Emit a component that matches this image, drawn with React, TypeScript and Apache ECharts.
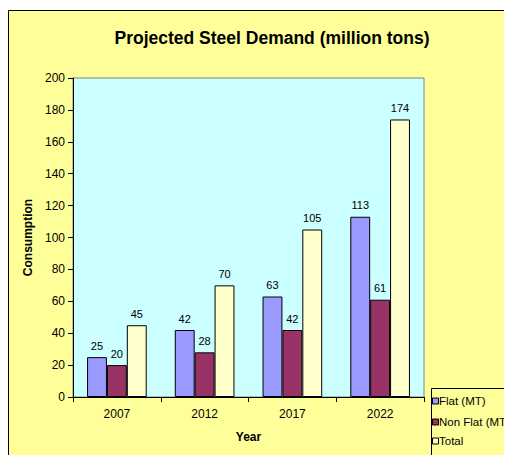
import React, { useEffect, useRef } from "react";
import * as echarts from "echarts";

const categories = ["2007", "2012", "2017", "2022"];
const flatValues = [25, 42, 63, 113];
const nonFlatValues = [20, 28, 42, 61];
const totalValues = [45, 70, 105, 174];
const seriesNames = ["Flat (MT)", "Non Flat (MT)", "Total"];
const seriesColors = ["#9999FF", "#993366", "#FFFFCC"];

const FONT = "Liberation Sans, Arial, sans-serif";

export default function App() {
  const ref = useRef<HTMLDivElement>(null);
  useEffect(() => {
    if (!ref.current) return;
    document.body.style.overflow = "hidden";
    const chart = echarts.init(ref.current, undefined, { renderer: "svg" });
    const dataSets = [flatValues, nonFlatValues, totalValues];
    const legendTop = 380;
    const legendLeft = 423;
    const itemYs = [13, 34, 53];
    const legendGraphics: any[] = [
      {
        type: "rect",
        silent: true,
        z: 50,
        shape: { x: legendLeft + 0.5, y: legendTop + 0.5, width: 120, height: 100 },
        style: { fill: "#FFFF99", stroke: "#000", lineWidth: 1 },
      },
    ];
    seriesNames.forEach((name, i) => {
      legendGraphics.push({
        type: "rect",
        silent: true,
        z: 51,
        shape: { x: legendLeft + 1.5, y: legendTop + itemYs[i] - 3, width: 6, height: 6 },
        style: { fill: seriesColors[i], stroke: "#000", lineWidth: 1 },
      });
      legendGraphics.push({
        type: "text",
        silent: true,
        z: 51,
        x: legendLeft + 8,
        y: legendTop + itemYs[i],
        style: {
          text: name,
          fontFamily: FONT,
          fontSize: 11.5,
          fill: "#000",
          verticalAlign: "middle",
          align: "left",
        },
      });
    });
    chart.setOption({
      animation: false,
      backgroundColor: "#ffffff",
      textStyle: { fontFamily: FONT },
      graphic: [
        {
          type: "rect",
          z: -10,
          silent: true,
          shape: { x: 0.5, y: 2.5, width: 620, height: 600 },
          style: { fill: "#FFFF99", stroke: "#000000", lineWidth: 1 },
        },
        ...legendGraphics,
      ],
      title: {
        text: "Projected Steel Demand (million tons)",
        left: 259,
        textAlign: "center",
        top: 16,
        textStyle: { fontFamily: FONT, fontSize: 17.5, fontWeight: "bold", color: "#000" },
      },
      grid: {
        left: 65,
        top: 70,
        right: 88,
        bottom: 58,
        show: true,
        backgroundColor: "#CCFFFF",
        borderColor: "#808080",
        borderWidth: 1,
      },
      xAxis: {
        type: "category",
        data: categories,
        name: "Year",
        nameLocation: "middle",
        nameGap: 34,
        nameTextStyle: { fontFamily: FONT, fontSize: 12, fontWeight: "bold", color: "#000" },
        axisLine: { lineStyle: { color: "#000", width: 1 } },
        axisTick: { show: true, length: 5, lineStyle: { color: "#000" } },
        axisLabel: { fontFamily: FONT, fontSize: 12, color: "#000", margin: 11 },
      },
      yAxis: {
        type: "value",
        min: 0,
        max: 200,
        interval: 20,
        name: "Consumption",
        nameLocation: "middle",
        nameGap: 37,
        nameRotate: 90,
        nameTextStyle: { fontFamily: FONT, fontSize: 12, fontWeight: "bold", color: "#000" },
        axisLine: { show: true, lineStyle: { color: "#000", width: 1 } },
        axisTick: { show: true, length: 5, lineStyle: { color: "#000" } },
        axisLabel: { fontFamily: FONT, fontSize: 12, color: "#000", margin: 8 },
        splitLine: { show: false },
      },
      series: seriesNames.map((name, i) => ({
        name,
        type: "bar",
        data: dataSets[i],
        barGap: "0%",
        barCategoryGap: "32%",
        itemStyle: { color: seriesColors[i], borderColor: "#000", borderWidth: 1 },
        label: {
          show: true,
          position: "top",
          distance: 6,
          fontFamily: FONT,
          fontSize: 11,
          color: "#000",
        },
      })),
    });
    return () => chart.dispose();
  }, []);
  return <div ref={ref} style={{ width: 504, height: 447 }} />;
}
